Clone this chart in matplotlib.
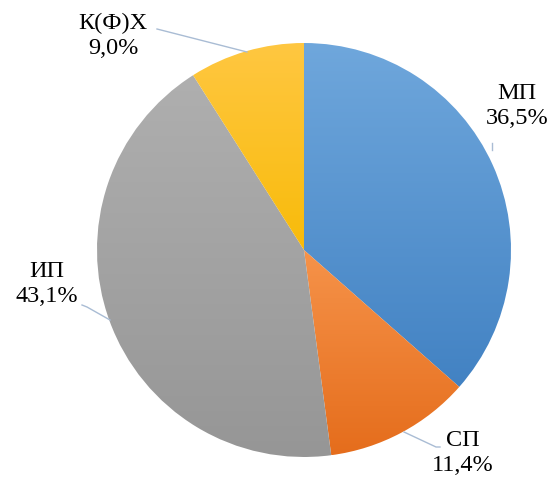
import matplotlib
matplotlib.use("Agg")
import matplotlib.pyplot as plt
import numpy as np
from matplotlib.colors import LinearSegmentedColormap

categories = ["МП", "СП", "ИП", "К(Ф)Х"]
values = [36.5, 11.4, 43.1, 9.0]
labels = ["МП\n36,5%", "СП\n11,4%", "ИП\n43,1%", "К(Ф)Х\n9,0%"]
top_colors = ["#6FA7DC", "#F6934A", "#AFAFAF", "#FFC741"]
bottom_colors = ["#4282C3", "#E56D1C", "#969696", "#F8BB0A"]

W, H = 560, 483
fig = plt.figure(figsize=(W / 100, H / 100), dpi=100)
ax = fig.add_axes([0, 0, 1, 1])

cx, cy, R = 304, H - 250, 207
wedges, _ = ax.pie(values, startangle=90, counterclock=False, center=(cx, cy),
                   radius=R, frame=True, wedgeprops=dict(linewidth=0))
ax.set_xlim(0, W)
ax.set_ylim(0, H)
ax.set_aspect("equal")
ax.axis("off")

for w, c1, c2 in zip(wedges, top_colors, bottom_colors):
    w.set_facecolor("none")
    bb = w.get_path().get_extents(w.get_patch_transform())
    cmap = LinearSegmentedColormap.from_list("g", [c2, c1])
    grad = np.linspace(0, 1, 256).reshape(-1, 1)
    im = ax.imshow(grad, cmap=cmap, origin="lower", aspect="auto",
                   extent=[bb.x0, bb.x1, bb.y0, bb.y1], zorder=1)
    im.set_clip_path(w)

font = dict(family="Liberation Serif", fontsize=17.5, color="black",
            ha="center", va="center", linespacing=1.3)
label_pos = [(517, 106), (463, 453), (47, 284), (113, 36)]
for (x, y), t in zip(label_pos, labels):
    ax.text(x, H - y, t, **font, zorder=3)

lc = "#A9BCD4"
leaders = [
    [(492, 143), (492, 150)],
    [(404, 432), (436, 447), (440, 447)],
    [(82, 305), (87, 307), (110, 320)],
    [(157, 29), (247, 52)],
]
for pts in leaders:
    xs = [p[0] for p in pts]
    ys = [H - p[1] for p in pts]
    ax.plot(xs, ys, color=lc, lw=1, zorder=2)

fig.savefig("out.png", dpi=100)
